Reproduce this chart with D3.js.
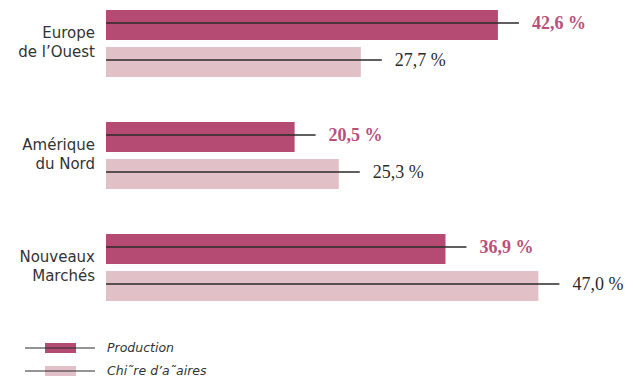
<!DOCTYPE html>
<html>
<head>
<meta charset="utf-8">
<script src="https://cdn.jsdelivr.net/npm/d3@7"></script>
<style>
  body { margin: 0; background: #fff; }
  svg { display: block; }
</style>
</head>
<body>
<div id="chart"></div>
<script>
const categories = [["Europe", "de l’Ouest"], ["Amérique", "du Nord"], ["Nouveaux", "Marchés"]];
const production = [42.6, 20.5, 36.9];
const chiffre = [27.7, 25.3, 47.0];
const seriesNames = ["Production", "Chi˜re d’a˜aires"];

const width = 633, height = 378;
const colors = ["#b54b72", "#e2c0c8"];
const labelColors = ["#b9507a", "#2b2b2b"];

const svg = d3.select("#chart").append("svg")
    .attr("width", width)
    .attr("height", height);

// 9.2px per point, bars start at x=106
const x = d3.scaleLinear().domain([0, 50]).range([106, 566]);
const y = d3.scaleBand().domain(d3.range(categories.length)).range([10, 346]);
const barH = 30, gap = 7;

const rows = [];
categories.forEach((c, i) => {
    rows.push({ cat: i, s: 0, v: production[i] });
    rows.push({ cat: i, s: 1, v: chiffre[i] });
});

const g = svg.append("g");

g.selectAll("rect.bar")
    .data(rows)
    .enter().append("rect")
    .attr("class", "bar")
    .attr("x", x(0))
    .attr("y", d => y(d.cat) + d.s * (barH + gap))
    .attr("width", d => x(d.v) - x(0))
    .attr("height", barH)
    .attr("fill", d => colors[d.s]);

// leader lines through the middle of each bar
g.selectAll("line.lead")
    .data(rows)
    .enter().append("line")
    .attr("x1", x(0))
    .attr("x2", d => x(d.v) + 21)
    .attr("y1", d => y(d.cat) + d.s * (barH + gap) + barH / 2 - 2)
    .attr("y2", d => y(d.cat) + d.s * (barH + gap) + barH / 2 - 2)
    .attr("stroke", "#2a2a2a")
    .attr("stroke-width", 1.3);

g.selectAll("text.val")
    .data(rows)
    .enter().append("text")
    .attr("x", d => x(d.v) + 34)
    .attr("y", d => y(d.cat) + d.s * (barH + gap) + barH / 2 - 2)
    .attr("dy", "0.35em")
    .attr("font-family", "'Liberation Serif', 'Times New Roman', serif")
    .attr("font-size", 18)
    .attr("font-weight", d => d.s === 0 ? "bold" : "normal")
    .attr("fill", d => labelColors[d.s])
    .text(d => d.v.toFixed(1).replace(".", ",") + " %");

// category labels
const cl = g.selectAll("text.cat")
    .data(categories)
    .enter().append("text")
    .attr("text-anchor", "end")
    .attr("font-family", "'DejaVu Sans', sans-serif")
    .attr("font-size", 15)
    .attr("fill", "#333");

cl.selectAll("tspan")
    .data((d, i) => d.map(t => ({ t, i })))
    .enter().append("tspan")
    .attr("x", 95)
    .attr("y", (d, j) => y(d.i) + 28 + j * 19)
    .text(d => d.t);

// legend
const legend = svg.append("g")
    .selectAll("g")
    .data(seriesNames)
    .enter().append("g")
    .attr("transform", (d, i) => `translate(0,${348 + i * 23})`);

legend.append("rect")
    .attr("x", 45).attr("y", -5)
    .attr("width", 31).attr("height", 10)
    .attr("fill", (d, i) => colors[i]);

legend.append("line")
    .attr("x1", 25).attr("x2", 95)
    .attr("stroke", "#2a2a2a")
    .attr("stroke-width", 1.1);

legend.append("text")
    .attr("x", 107)
    .attr("dy", "0.33em")
    .attr("font-family", "'DejaVu Sans', sans-serif")
    .attr("font-size", 12.5)
    .attr("font-style", "italic")
    .attr("fill", "#333")
    .text(d => d);
</script>
</body>
</html>
